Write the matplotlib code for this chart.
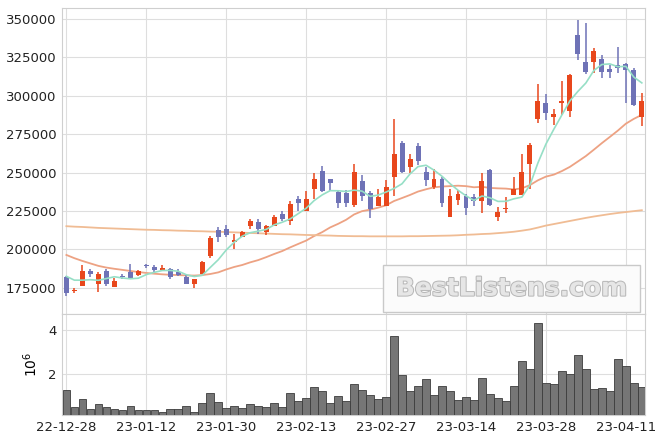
import numpy as np
import pandas as pd
import matplotlib
matplotlib.use('Agg')
import matplotlib.pyplot as plt
import matplotlib.patheffects as pe
from matplotlib.patches import Rectangle

# daily OHLC (won), 22-12-28 .. 23-04-13
opens = [182000,172700,176500,186000,177400,185800,175700,183000,185200,183500,
         189800,188500,186700,187100,185400,182000,177800,184300,195400,212500,
         213200,205100,208400,215500,217700,211600,215500,223100,218800,232700,
         225100,239600,250900,245900,237400,236800,229000,244800,236600,228500,
         228500,247400,269300,253300,267300,250600,240500,245900,221400,232300,
         235000,234400,231800,251700,221400,226200,235500,235500,255400,284500,
         295100,285800,294900,290300,339600,321800,321800,323800,317300,320100,
         320700,316800,286400]
highs = [183000,174600,190000,187200,185000,187200,181700,184100,190600,186700,
         190600,189800,189800,188000,187500,183300,181000,192500,208800,214700,
         216200,210300,212300,219900,220100,216000,222300,224700,231600,235000,
         238300,249400,254400,246000,238800,238800,255600,248300,238300,239200,
         245000,284700,270800,262100,269300,253500,252200,247400,239200,238800,
         236000,236000,250000,252300,227300,234400,247400,262100,269100,307500,
         301000,291500,309600,314200,349300,347200,330900,326600,320100,331600,
         321200,317900,302000]
lows = [169500,171500,176500,182200,172600,176500,175600,180700,181500,182800,
        188000,185400,186500,180700,182800,177600,175200,183800,194700,204700,
        208400,200400,208000,213400,210100,209500,215300,218200,215900,224700,
        224900,232900,237600,238000,226900,227900,227500,231800,220300,228300,
        228300,235000,250000,249600,255000,241300,239200,227500,221000,229000,
        222300,228500,223600,228500,218800,224000,235300,235300,239200,282100,
        284300,281000,287500,286400,323300,314000,314700,311400,311400,314700,
        295500,293000,280400]
closes = [171500,173700,186000,184300,184100,177200,179500,182000,181700,185900,
          189100,186700,188000,182000,183300,177800,180800,191900,207500,208400,
          209500,206200,211400,218800,213400,215300,220900,219900,229600,230500,
          232900,245900,238300,243500,230100,230500,250400,235000,226600,234000,
          240500,262100,250300,258700,257600,245000,246100,230500,234800,236100,
          226900,231200,244600,229000,224400,227200,239400,250200,268000,296400,
          288400,288200,296200,313600,327400,315700,328900,315700,315500,318300,
          316800,294100,296800]
volumes = [1280000,480000,850000,400000,620000,480000,390000,350000,520000,350000,
           350000,350000,250000,400000,400000,520000,250000,660000,1120000,720000,
           430000,520000,430000,620000,520000,480000,660000,480000,1120000,750000,
           890000,1400000,1230000,660000,990000,750000,1540000,1280000,1030000,850000,
           940000,3750000,1950000,1220000,1450000,1770000,1030000,1450000,1220000,820000,
           940000,820000,1820000,1080000,890000,750000,1450000,2600000,2230000,4350000,
           1590000,1540000,2140000,2000000,2880000,2230000,1310000,1350000,1220000,2690000,
           2370000,1590000,1400000]

# moving-average values before enough history is on the chart
ma5_head = [182500, 180000, 180000, 180300]
ma20_head = [196400,194300,192500,190900,189300,188200,187400,186700,186000,185300,
             184700,184200,183800,183500,183300,183100,183000,183300,184000]
ma120 = [215100,214800,214600,214300,214000,213800,213600,213400,213200,213000,
         212800,212700,212500,212400,212200,212100,211900,211800,211600,211500,
         211300,211100,210900,210700,210500,210300,210100,209900,209800,209600,
         209400,209300,209100,209000,208800,208700,208600,208600,208500,208500,
         208500,208500,208500,208600,208600,208700,208800,208900,209000,209200,
         209500,209700,210000,210200,210600,211000,211500,212200,213000,214200,
         215500,216500,217500,218500,219500,220500,221400,222200,223000,223700,
         224300,224900,225500]

tick_pos = [0, 10, 20, 30, 40, 50, 60, 70]
tick_labels = ['22-12-28','23-01-12','23-01-30','23-02-13',
               '23-02-27','23-03-14','23-03-28','23-04-11']
vol_ticks = [2, 4]

up_col = '#E8471C'
down_col = '#6E72B6'
grid_col = '#dedede'
spine_col = '#cfcfcf'

o = np.array(opens, float); h = np.array(highs, float)
l = np.array(lows, float); c = np.array(closes, float)
idx = np.arange(len(c))
cs = pd.Series(c)
ma5 = cs.rolling(5).mean().values
ma5[:4] = ma5_head
ma20 = cs.rolling(20).mean().values
ma20[:19] = ma20_head

W, H = 663, 444
fig = plt.figure(figsize=(W/100, H/100), dpi=100)
ax = fig.add_axes([62/W, 1-314/H, (645-62)/W, (314-8)/H])
axv = fig.add_axes([62/W, 1-415/H, (645-62)/W, (415-314)/H])

cols = np.where(c >= o, up_col, down_col)
ax.vlines(idx, l, h, colors=cols, lw=1.1, zorder=3)
body = np.maximum(np.abs(c - o), 400)
ax.bar(idx, body, bottom=np.minimum(o, c), width=0.62, color=cols, zorder=4)

ax.plot(idx, ma5, color='#96DFC6', lw=1.2, zorder=5)
ax.plot(idx, ma20, color='#EDA283', lw=1.3, zorder=2)
ax.plot(idx, ma120, color='#F0BC94', lw=1.3, zorder=2)

ax.set_ylim(158000, 357000)
ax.set_yticks(range(175000, 350001, 25000))
ax.set_xlim(-0.55, 72.4)
ax.set_xticks(tick_pos)

axv.bar(idx, np.array(volumes)/1e6, width=0.95, color='#767676',
        edgecolor='#3c3c3c', lw=0.6, zorder=3)
axv.set_xlim(-0.55, 72.4)
axv.set_ylim(0.12, 4.75)
axv.set_yticks(vol_ticks)
axv.set_yticklabels([str(t) for t in vol_ticks])
axv.set_ylabel('$10^6$', fontsize=10, labelpad=6)
axv.set_xticks(tick_pos)
axv.set_xticklabels(tick_labels)

for a in (ax, axv):
    a.set_axisbelow(True)
    a.grid(True, color=grid_col, lw=0.8)
    for s in a.spines.values():
        s.set_color(spine_col)
    a.tick_params(length=0, labelsize=9.5, pad=4, colors='#222222')
ax.tick_params(labelbottom=False)

# watermark box
ax.add_patch(Rectangle((0.551, 0.007), 0.44, 0.153, transform=ax.transAxes,
                       facecolor='#fbfbfb', edgecolor='#c9c9c9', lw=1, zorder=6))
ax.text(0.771, 0.083, 'BestListens.com', transform=ax.transAxes,
        ha='center', va='center', fontsize=18, fontweight='bold', color='#e6e6e6',
        path_effects=[pe.withStroke(linewidth=1.5, foreground='#b9b9b9')],
        zorder=7)

fig.savefig('out.png', dpi=100)
plt.close()
